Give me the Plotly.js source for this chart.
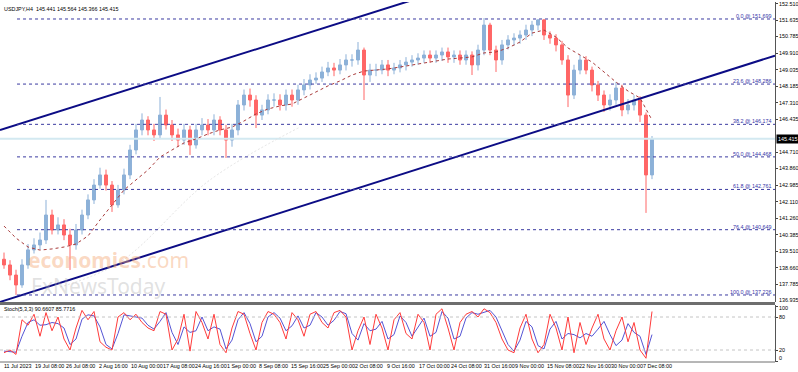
<!DOCTYPE html>
<html><head><meta charset="utf-8">
<script src="https://cdn.plot.ly/plotly-3.0.1.min.js"></script>
<style>html,body{margin:0;padding:0;background:#fff}#chart{width:798px;height:372px}</style>
</head><body><div id="chart"></div>
<script>
// ---------- DATA ----------
const symbolText = "USDJPY,H4  145.441 145.564 145.366 145.415";
const stochText = "Stoch(5,3,3) 90.6607 85.7716";
const dateLabels = ["11 Jul 2023","19 Jul 08:00","26 Jul 08:00","2 Aug 16:00","10 Aug 00:00","17 Aug 08:00","24 Aug 16:00","1 Sep 00:00","8 Sep 08:00","15 Sep 16:00","25 Sep 00:00","2 Oct 08:00","9 Oct 16:00","17 Oct 00:00","24 Oct 08:00","31 Oct 16:00","9 Nov 00:00","15 Nov 08:00","22 Nov 16:00","30 Nov 00:00","7 Dec 08:00"];
const datePos = [-0.33,4.83,10,15.5,20.83,26.17,31.5,36.83,42.17,47.5,52.83,58.17,63.5,68.83,74.17,79.67,84.83,90.17,95.5,100.83,106.17];

const open = [139.10,138.80,138.27,137.75,138.80,139.59,139.85,140.11,141.42,140.63,140.90,140.37,139.85,140.63,141.42,142.21,142.99,143.52,142.99,141.95,142.73,143.52,144.83,145.88,146.40,145.88,145.62,146.66,146.14,145.62,145.35,145.88,145.09,145.88,146.14,145.88,146.40,145.88,145.35,145.88,147.19,147.71,147.45,146.66,146.93,147.45,147.45,147.19,147.71,147.45,147.98,148.24,148.50,148.60,148.92,149.13,149.02,149.29,149.55,149.55,150.07,148.76,149.02,149.02,149.29,149.02,149.13,149.29,149.44,149.55,149.65,149.81,149.65,149.81,149.97,149.71,149.81,149.55,149.81,149.29,150.07,151.38,150.07,149.55,150.34,150.60,150.70,150.86,151.12,151.38,151.65,150.86,150.70,150.34,149.55,147.71,149.02,149.55,149.02,148.24,147.71,147.19,147.45,148.08,146.93,147.19,147.45,146.66,143.52];
const high = [139.45,139.05,138.55,139.10,139.90,140.20,140.50,142.21,141.70,141.30,141.20,140.70,140.95,141.70,142.50,143.30,143.90,143.80,143.20,143.00,143.85,145.10,146.20,146.75,146.60,146.20,147.61,146.95,146.40,145.95,146.20,146.10,146.20,146.50,146.45,146.70,146.60,146.15,146.20,147.45,148.00,148.05,147.70,147.20,147.75,147.80,147.75,148.00,148.00,148.25,148.55,148.80,148.90,149.20,149.45,149.40,149.60,149.85,149.85,150.49,150.20,149.35,149.35,149.55,149.55,149.40,149.55,149.70,149.80,149.90,150.05,150.05,150.05,150.20,150.20,150.05,150.05,150.05,150.00,150.35,151.75,151.50,150.30,150.60,150.85,150.95,151.10,151.40,151.60,151.70,151.70,151.05,150.90,150.55,149.80,149.30,149.80,149.75,149.20,148.45,147.95,147.75,148.40,148.25,147.50,147.70,147.65,146.80,145.56];
const low = [138.60,138.00,137.23,137.60,138.60,139.40,139.60,139.90,140.40,140.40,140.10,138.54,139.60,140.40,141.20,142.00,142.80,142.70,141.58,141.80,142.50,143.30,144.60,145.60,145.60,145.30,145.40,145.90,145.30,145.00,145.10,144.57,144.90,145.60,145.60,145.60,145.60,144.41,145.00,145.60,146.90,147.10,145.98,146.40,146.70,147.10,146.90,146.90,147.10,147.20,147.70,148.00,148.30,148.40,148.70,148.70,148.80,149.00,149.20,149.30,147.45,148.40,148.70,148.80,148.70,148.80,148.90,149.00,149.20,149.30,149.40,149.40,149.40,149.50,149.40,149.40,149.30,149.30,148.76,149.00,149.80,149.80,148.92,149.30,150.10,150.30,150.40,150.60,150.80,151.10,150.60,150.40,150.00,149.30,147.08,147.50,148.80,148.80,147.90,147.40,146.82,146.90,147.20,146.60,146.70,146.90,146.30,141.53,143.30];
const close = [138.80,138.27,137.75,138.80,139.59,139.85,140.11,141.42,140.63,140.90,140.37,139.85,140.63,141.42,142.21,142.99,143.52,142.99,141.95,142.73,143.52,144.83,145.88,146.40,145.88,145.62,146.66,146.14,145.62,145.35,145.88,145.09,145.88,146.14,145.88,146.40,145.88,145.35,145.88,147.19,147.71,147.45,146.66,146.93,147.45,147.45,147.19,147.71,147.45,147.98,148.24,148.50,148.60,148.92,149.13,149.02,149.29,149.55,149.55,150.07,148.76,149.02,149.02,149.29,149.02,149.13,149.29,149.44,149.55,149.65,149.81,149.65,149.81,149.97,149.71,149.81,149.55,149.81,149.29,150.07,151.38,150.07,149.55,150.34,150.60,150.70,150.86,151.12,151.38,151.65,150.86,150.70,150.34,149.55,147.71,149.02,149.55,149.02,148.24,147.71,147.19,147.45,148.08,146.93,147.19,147.45,146.66,143.52,145.415];

const maPos = [0,2,4,6,8,10,12,14,16,18,20,22,24,26,28,30,32,34,36,38,40,42,44,46,48,50,52,54,56,58,60,62,64,66,68,70,72,74,76,78,80,82,84,86,88,90,92,94,96,98,100,102,104,106,108];
const maValues = [140.84,140.21,139.74,139.58,139.64,139.74,139.90,140.32,141.16,141.94,142.73,143.26,143.78,144.46,144.83,145.20,145.41,145.67,145.88,146.03,146.35,146.72,146.98,147.14,147.24,147.56,147.87,148.19,148.45,148.76,148.97,149.02,149.08,149.18,149.29,149.39,149.50,149.60,149.65,149.71,149.92,149.97,150.18,150.49,150.96,151.12,150.75,150.18,149.81,149.44,148.92,148.39,147.92,147.56,146.40];

const slowMaPos = [9.33,19.33,34.33,49.33];
const slowMaValues = [137.64,138.95,143.26,146.03];

const stochK = [15,20,12,75,65,85,45,88,55,80,40,20,60,92,75,90,35,25,20,80,88,75,85,70,60,55,90,85,20,40,85,18,90,70,40,85,30,15,60,90,85,50,20,70,90,85,70,40,88,75,45,85,90,70,60,88,92,80,20,55,80,30,85,60,20,75,88,50,40,85,70,20,85,95,60,20,70,85,90,80,95,88,70,40,20,15,60,85,40,15,30,85,60,20,80,15,70,30,60,85,40,20,55,80,35,70,20,5,90];
const stochD = [18,17,16,45,70,75,65,66,70,68,60,30,40,76,84,82,62,30,22,50,84,82,80,78,65,58,72,88,52,30,62,52,55,80,55,62,58,22,38,75,88,68,35,45,80,88,78,55,64,82,60,65,88,80,65,74,90,86,50,38,68,55,58,72,40,48,82,70,45,62,78,45,52,90,78,40,45,78,88,85,88,92,80,55,30,18,38,72,62,28,22,58,72,40,50,48,42,50,45,58,72,48,28,38,68,52,45,12,48];

const fibNames = ["0.0","23.6","38.2","50.0","61.8","76.4","100.0"];
const fibLevels = [151.699,148.286,146.174,144.468,142.761,140.649,137.226];
const fibStart = 2.17;
const priceTicks = [152.510,151.635,150.785,149.910,149.035,148.185,147.310,146.435,144.710,143.860,142.985,142.110,141.260,140.385,139.510,138.660,137.785];
const lastPrice = 145.415;
const lowLabel = "136.935";
const stochTicks = [100,80,20,0];
const stochLevels = [80,20];
const upperChannelX = [-0.67,128.5], upperChannelY = [145.88,158.68];
const lowerChannelX = [-0.67,128.5], lowerChannelY = [136.86,149.78];

// ---------- CHART ----------
const X0 = -0.667, X1 = 128.5;
const idx = close.map((_, i) => i);
const font = "Liberation Sans, Arial, sans-serif";
const fs = 5.4;

const traces = [
  {type:'scatter', mode:'lines', x:[X0,X1], y:[lastPrice,lastPrice], line:{color:'#d3e9f1', width:2}, hoverinfo:'skip', xaxis:'x', yaxis:'y'},
  {type:'scatter', mode:'lines', x:slowMaPos, y:slowMaValues, line:{color:'#e4e4e4', width:1, dash:'2px,2px', shape:'spline'}, xaxis:'x', yaxis:'y'},
  {type:'candlestick', x:idx, open:open, high:high, low:low, close:close, xaxis:'x', yaxis:'y',
   increasing:{line:{color:'#8db1d8', width:1}, fillcolor:'#8db1d8'},
   decreasing:{line:{color:'#ff6666', width:1}, fillcolor:'#ff6666'}, whiskerwidth:0},
  {type:'scatter', mode:'lines', x:maPos, y:maValues, line:{color:'#a83a3a', width:1, dash:'3px,3px'}, xaxis:'x', yaxis:'y'},
  {type:'scatter', mode:'lines', x:upperChannelX, y:upperChannelY, line:{color:'#0c0c85', width:2}, xaxis:'x', yaxis:'y'},
  {type:'scatter', mode:'lines', x:lowerChannelX, y:lowerChannelY, line:{color:'#0c0c85', width:2}, xaxis:'x', yaxis:'y'},
  {type:'scatter', mode:'lines', x:idx, y:stochD, line:{color:'#5555d5', width:1}, xaxis:'x', yaxis:'y2'},
  {type:'scatter', mode:'lines', x:idx, y:stochK, line:{color:'#ff3b3b', width:1}, xaxis:'x', yaxis:'y2'}
];

const shapes = [];
fibLevels.forEach(v => shapes.push({type:'line', xref:'x', yref:'y', x0:fibStart, x1:X1, y0:v, y1:v, line:{color:'#3a3aa0', width:1, dash:'dot'}}));
stochLevels.forEach(v => shapes.push({type:'line', xref:'x', yref:'y2', x0:X0, x1:X1, y0:v, y1:v, line:{color:'#c4c4c4', width:1, dash:'dot'}}));
shapes.push({type:'line', xref:'paper', yref:'paper', x0:0, x1:1, y0:0.1625, y1:0.1625, line:{color:'#6e6e6e', width:3}});
shapes.push({type:'line', xref:'paper', yref:'paper', x0:0, x1:1, y0:0, y1:0, line:{color:'#6e6e6e', width:1}});

const annotations = [
  {xref:'paper', yref:'paper', x:0.003, y:0.995, xanchor:'left', yanchor:'top', text:symbolText, showarrow:false, font:{family:font, size:fs, color:'#000'}},
  {xref:'paper', yref:'paper', x:0.003, y:0.148, xanchor:'left', yanchor:'middle', text:stochText, showarrow:false, font:{family:font, size:fs, color:'#000'}},
  {xref:'paper', yref:'y', x:1, y:lastPrice, xanchor:'left', yanchor:'middle', xshift:1, text:lastPrice.toFixed(3), showarrow:false, bgcolor:'#000', borderpad:1, font:{family:font, size:fs, color:'#fff'}},
  {xref:'paper', yref:'paper', x:1, y:0.172, xanchor:'left', yanchor:'middle', xshift:2, text:lowLabel, showarrow:false, font:{family:font, size:fs, color:'#000'}},
  {xref:'x', yref:'y', x:3.9, y:139.05, xanchor:'left', yanchor:'middle', text:'<b>economies</b>.com', showarrow:false, borderpad:0, font:{family:'Noto Sans, sans-serif', size:21, color:'rgba(245,170,120,0.45)'}},
  {xref:'x', yref:'y', x:4.3, y:137.72, xanchor:'left', yanchor:'middle', text:'FxNewsToday', showarrow:false, borderpad:0, font:{family:'Noto Sans, sans-serif', size:21, color:'rgba(180,180,180,0.4)'}}
];
priceTicks.forEach(v => annotations.push({xref:'paper', yref:'y', x:1, y:v, xanchor:'left', yanchor:'middle', xshift:2, text:v.toFixed(3), showarrow:false, font:{family:font, size:fs, color:'#000'}}));
const stochLabelShift = [-2,0,0,3];
stochTicks.forEach((v,i) => annotations.push({xref:'paper', yref:'y2', x:1, y:v, xanchor:'left', yanchor:'middle', xshift:2, yshift:stochLabelShift[i], text:String(v), showarrow:false, font:{family:font, size:fs, color:'#000'}}));
fibLevels.forEach((v,i) => annotations.push({xref:'paper', yref:'y', x:0.997, y:v, xanchor:'right', yanchor:'bottom', text:fibNames[i] + ' @ ' + v.toFixed(3), showarrow:false, yshift:-2, font:{family:font, size:fs, color:'#3535a8'}}));
dateLabels.forEach((t,i) => annotations.push({xref:'x', yref:'paper', x:datePos[i], y:-0.012, xanchor:'left', yanchor:'middle', text:t, showarrow:false, font:{family:font, size:fs, color:'#000'}}));

const layout = {
  width:798, height:372, margin:{l:0, r:23, t:2, b:10},
  paper_bgcolor:'#fff', plot_bgcolor:'#fff', showlegend:false,
  xaxis:{range:[X0,X1], showticklabels:false, showgrid:false, zeroline:false, rangeslider:{visible:false}, anchor:'y2', ticks:''},
  yaxis:{domain:[0.1667,1], range:[136.858,152.59], side:'right', tickvals:priceTicks, showticklabels:false, ticks:'outside', ticklen:2, tickcolor:'#444', showgrid:false, zeroline:false, showline:true, linecolor:'#555', linewidth:1, anchor:'x'},
  yaxis2:{domain:[0,0.1583], range:[-1.8,101.8], side:'right', tickvals:stochTicks, showticklabels:false, ticks:'outside', ticklen:2, tickcolor:'#444', showgrid:false, zeroline:false, showline:true, linecolor:'#555', linewidth:1, anchor:'x'},
  shapes:shapes, annotations:annotations
};
Plotly.newPlot('chart', traces, layout, {staticPlot:true, displayModeBar:false});
</script></body></html>
